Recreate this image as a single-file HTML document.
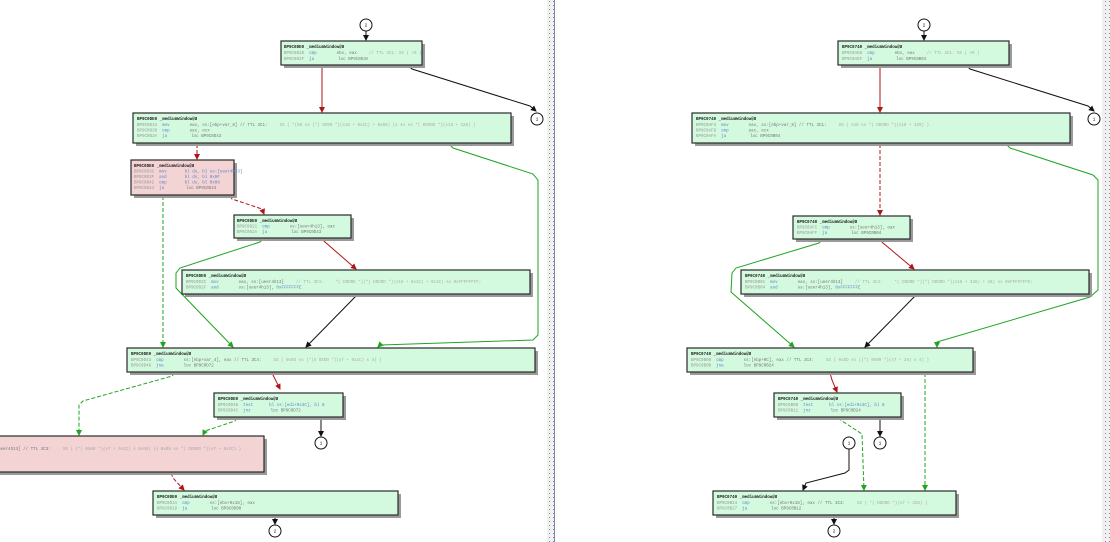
<!DOCTYPE html>
<html><head><meta charset="utf-8"><style>
html,body{margin:0;padding:0;background:#fff;}
svg{display:block}
text{font-family:"Liberation Mono",monospace;font-size:4.2px;}
.h{font-weight:bold;fill:#222;}
.a{fill:#999;}
.m{fill:#5b86c8;}
.o{fill:#777;}
.c{fill:#aaa;}
.b{fill:#d3fadf;stroke:#2a2a2a;stroke-width:1.2;}
.p{fill:#f3d3d3;stroke:#2a2a2a;stroke-width:1.2;}
.s{fill:#9a9a9a;}
.k{fill:none;stroke:#111;stroke-width:1;}
.r{fill:none;stroke:#b01515;stroke-width:1;}
.g{fill:none;stroke:#1fa51f;stroke-width:1;}
.d{stroke-dasharray:4,2;}
.ci{fill:#fff;stroke:#111;stroke-width:1;}
</style></head><body>
<svg width="1110" height="542" viewBox="0 0 1110 542" xmlns="http://www.w3.org/2000/svg">
<defs>
<marker id="ak" markerWidth="6" markerHeight="6" refX="5" refY="3" orient="auto" markerUnits="userSpaceOnUse"><path d="M0,0L6,3L0,6z" fill="#111"/></marker>
<marker id="ar" markerWidth="6" markerHeight="6" refX="5" refY="3" orient="auto" markerUnits="userSpaceOnUse"><path d="M0,0L6,3L0,6z" fill="#b01515"/></marker>
<marker id="ag" markerWidth="6" markerHeight="6" refX="5" refY="3" orient="auto" markerUnits="userSpaceOnUse"><path d="M0,0L6,3L0,6z" fill="#1fa51f"/></marker>
<pattern id="dots" width="4" height="4" patternUnits="userSpaceOnUse"><rect width="4" height="4" fill="#f0f0f0"/><rect x="1" y="1" width="1" height="1" fill="#8a8a9a"/></pattern>
</defs>

<rect x="547" y="0" width="7" height="542" fill="url(#dots)"/>
<line x1="554.5" y1="0" x2="554.5" y2="542" stroke="#7a8aa8" stroke-width="1"/>
<rect x="1102" y="0" width="8" height="542" fill="url(#dots)"/>

<!-- LEFT CONNECTORS -->
<polyline class="k" points="366,31 366,40" marker-end="url(#ak)"/>
<polyline class="r" points="322,66 322,112" marker-end="url(#ar)"/>
<polyline class="k" points="409,66 412,69 530,106 536,111" marker-end="url(#ak)"/>
<polyline class="r d" points="197,144 197,159" marker-end="url(#ar)"/>
<polyline class="g" points="449,144 453,148 533,174 538,180 538,335 533,340 380,345 378,347" marker-end="url(#ag)"/>
<polyline class="g d" points="163,196 163,347" marker-end="url(#ag)"/>
<polyline class="r d" points="230,196 232,199 262,209 264,214" marker-end="url(#ar)"/>
<polyline class="g" points="263,239 260,242 180,268 176,273 176,288 233,347" marker-end="url(#ag)"/>
<polyline class="r" points="322,239 325,242 356,269" marker-end="url(#ar)"/>
<polyline class="k" points="357,295 306,347" marker-end="url(#ak)"/>
<polyline class="g d" points="175,373 172,376 83,401 79,405 79,435" marker-end="url(#ag)"/>
<polyline class="r" points="272,373 280,389" marker-end="url(#ar)"/>
<polyline class="g d" points="237,418 235,421 205,431 203,435" marker-end="url(#ag)"/>
<polyline class="k" points="321,418 321,436" marker-end="url(#ak)"/>
<polyline class="r d" points="171,473 173,478 184,490" marker-end="url(#ar)"/>
<polyline class="k" points="275,516 275,524" marker-end="url(#ak)"/>

<!-- RIGHT CONNECTORS -->
<polyline class="k" points="924,31 924,40" marker-end="url(#ak)"/>
<polyline class="r" points="880,66 880,112" marker-end="url(#ar)"/>
<polyline class="k" points="967,66 970,69 1088,106 1094,111" marker-end="url(#ak)"/>
<polyline class="r d" points="880,144 880,215" marker-end="url(#ar)"/>
<polyline class="g" points="1006,144 1010,148 1093,175 1098,180 1098,290 1090,297 937,342 937,347" marker-end="url(#ag)"/>
<polyline class="g" points="822,240 819,243 736,268 732,273 731,292 794,347" marker-end="url(#ag)"/>
<polyline class="r" points="880,240 883,243 914,269" marker-end="url(#ar)"/>
<polyline class="k" points="916,295 865,347" marker-end="url(#ak)"/>
<polyline class="r" points="830,373 832,380 837,392" marker-end="url(#ar)"/>
<polyline class="g d" points="925,373 925,490" marker-end="url(#ag)"/>
<polyline class="g d" points="838,418 842,421 862,434 864,490" marker-end="url(#ag)"/>
<polyline class="k" points="880,418 880,436" marker-end="url(#ak)"/>
<polyline class="k" points="849,449 849,470 845,473 806,483 803,490" marker-end="url(#ak)"/>
<polyline class="k" points="834,516 834,524" marker-end="url(#ak)"/>

<!-- LEFT BOXES -->
<rect class="s" x="284" y="44" width="141" height="24"/><rect class="b" x="281" y="41" width="141" height="24"/>
<text x="284" y="48" class="h">BP9C0DE0   _mediumWindow@8</text>
<text x="284" y="54"><tspan class="a">BP9C0D2D</tspan><tspan class="m" dx="5">cmp</tspan><tspan class="o" dx="20">ebx, eax</tspan><tspan class="c" dx="12">// TTL 3C1:    SS ( &gt;0 )</tspan></text>
<text x="284" y="60"><tspan class="a">BP9C0D2F</tspan><tspan class="m" dx="5">ja</tspan><tspan class="o" dx="24">loc BP9C0D3A</tspan></text>

<rect class="s" x="136" y="116" width="378" height="30"/><rect class="b" x="133" y="113" width="378" height="30"/>
<text x="137" y="120" class="h">BP9C0DE0   _mediumWindow@8</text>
<text x="137" y="126"><tspan class="a">BP9C0D34</tspan><tspan class="m" dx="5">mov</tspan><tspan class="o" dx="20">eax, ss:[ebp+var_8] // TTL 3C1:</tspan><tspan class="c" dx="12">SS ( *(S8 ss (*) 0X00 *)(s18 + 0x1C) + 0x08) (s 4s ss *( DDDRD *)(s18 + 328) )</tspan></text>
<text x="137" y="131.5"><tspan class="a">BP9C0D38</tspan><tspan class="m" dx="5">cmp</tspan><tspan class="o" dx="20">eax, ecx</tspan></text>
<text x="137" y="137"><tspan class="a">BP9C0D3A</tspan><tspan class="m" dx="5">ja</tspan><tspan class="o" dx="24">loc BP9C0D43</tspan></text>

<rect class="s" x="134" y="163" width="103" height="35"/><rect class="p" x="131" y="160" width="103" height="35"/>
<text x="134" y="167" class="h">BP9C0DE0   _mediumWindow@8</text>
<text x="134" y="172.5"><tspan class="a">BP9C0D3C</tspan><tspan class="m" dx="5">mov</tspan><tspan class="m" dx="18">bl ds, bl ss:[ueer4h13]</tspan></text>
<text x="134" y="178"><tspan class="a">BP9C0D3F</tspan><tspan class="m" dx="5">and</tspan><tspan class="m" dx="18">bl ds, bl 0x0F</tspan></text>
<text x="134" y="183.5"><tspan class="a">BP9C0D42</tspan><tspan class="m" dx="5">cmp</tspan><tspan class="m" dx="18">bl ds, bl 0x08</tspan></text>
<text x="134" y="189"><tspan class="a">BP9C0D44</tspan><tspan class="m" dx="5">ja</tspan><tspan class="o" dx="22">loc BP9C0D43</tspan></text>

<rect class="s" x="237" y="218" width="117" height="23"/><rect class="b" x="234" y="215" width="117" height="23"/>
<text x="237" y="222" class="h">BP9C0DE0   _mediumWindow@8</text>
<text x="237" y="227.5"><tspan class="a">BP9C0D21</tspan><tspan class="m" dx="5">cmp</tspan><tspan class="o" dx="20">ss:[ueer4h13], eax</tspan></text>
<text x="237" y="233"><tspan class="a">BP9C0D2A</tspan><tspan class="m" dx="5">ja</tspan><tspan class="o" dx="24">loc BP9C0D43</tspan></text>

<rect class="s" x="185" y="273" width="348" height="24"/><rect class="b" x="182" y="270" width="348" height="24"/>
<text x="186" y="277" class="h">BP9C0DE0   _mediumWindow@8</text>
<text x="186" y="283"><tspan class="a">BP9C0D2C</tspan><tspan class="m" dx="5">mov</tspan><tspan class="o" dx="20">eax, ss:[ueer4h13]</tspan><tspan class="c" dx="12">// TTL 3C4:</tspan><tspan class="c" dx="12">*( DDDRD *)(*( DDDRD *)(s18 + 0x1C) + 0x1C) sx 0xFFFFFFFF;</tspan></text>
<text x="186" y="288.5"><tspan class="a">BP9C0D2F</tspan><tspan class="m" dx="5">and</tspan><tspan class="o" dx="20">ss:[ueer4h13], </tspan><tspan class="m">0xFFFFFFFE</tspan></text>

<rect class="s" x="130" y="351" width="408" height="24"/><rect class="b" x="127" y="348" width="408" height="24"/>
<text x="131" y="355" class="h">BP9C0DE0   _mediumWindow@8</text>
<text x="131" y="361"><tspan class="a">BP9C0D43</tspan><tspan class="m" dx="5">cmp</tspan><tspan class="o" dx="20">ss:[ebp+var_4], eax // TTL 3C4:</tspan><tspan class="c" dx="12">SS ( 0x03 ss (*(S OXDD *)(s7 + 0x1C) s 4) )</tspan></text>
<text x="131" y="366.5"><tspan class="a">BP9C0D46</tspan><tspan class="m" dx="5">jna</tspan><tspan class="o" dx="20">loc BP9C0D72</tspan></text>

<rect class="s" x="217" y="396" width="129" height="24"/><rect class="b" x="214" y="393" width="129" height="24"/>
<text x="218" y="400" class="h">BP9C0DE0   _mediumWindow@8</text>
<text x="218" y="406"><tspan class="a">BP9C0D48</tspan><tspan class="m" dx="5">test</tspan><tspan class="m" dx="16">bl ss:[edi+0x3C], bl 8</tspan></text>
<text x="218" y="411.5"><tspan class="a">BP9C0D4C</tspan><tspan class="m" dx="5">jnz</tspan><tspan class="o" dx="20">loc BP9C0D72</tspan></text>

<rect class="s" x="-7" y="439" width="274" height="36"/><rect class="p" x="-10" y="436" width="274" height="36"/>
<text x="-2" y="450"><tspan class="o">ueer4h13] // TTL 3C3:</tspan><tspan class="c" dx="12">SS ( (*) 0X00 *)(s7 + 0x1C) s 0x08) (s 0x08 ss *( DDDRD *)(s7 + 0x1C) )</tspan></text>

<rect class="s" x="156" y="494" width="245" height="24"/><rect class="b" x="153" y="491" width="245" height="24"/>
<text x="157" y="498" class="h">BP9C0DE0   _mediumWindow@8</text>
<text x="157" y="504"><tspan class="a">BP9C0D1A</tspan><tspan class="m" dx="5">cmp</tspan><tspan class="o" dx="20">ss:[ebx+0x18], eax</tspan></text>
<text x="157" y="509.5"><tspan class="a">BP9C0D1D</tspan><tspan class="m" dx="5">ja</tspan><tspan class="o" dx="24">loc BP9C0D00</tspan></text>

<circle class="ci" cx="366" cy="25" r="6"/><text x="366" y="26.5" text-anchor="middle">2</text>
<circle class="ci" cx="537" cy="119" r="6"/><text x="537" y="120.5" text-anchor="middle">1</text>
<circle class="ci" cx="321" cy="443" r="6"/><text x="321" y="444.5" text-anchor="middle">1</text>
<circle class="ci" cx="275" cy="531" r="6"/><text x="275" y="532.5" text-anchor="middle">2</text>

<!-- RIGHT BOXES -->
<rect class="s" x="841" y="44" width="171" height="24"/><rect class="b" x="838" y="41" width="171" height="24"/>
<text x="842" y="48" class="h">BP9C0740   _mediumWindow@8</text>
<text x="842" y="54"><tspan class="a">BP9C0AE0</tspan><tspan class="m" dx="5">cmp</tspan><tspan class="o" dx="20">ebx, eax</tspan><tspan class="c" dx="12">// TTL 3C1:    SS ( &gt;0 )</tspan></text>
<text x="842" y="60"><tspan class="a">BP9C0AEF</tspan><tspan class="m" dx="5">ja</tspan><tspan class="o" dx="24">loc BP9C0B04</tspan></text>

<rect class="s" x="695" y="116" width="378" height="30"/><rect class="b" x="692" y="113" width="378" height="30"/>
<text x="696" y="120" class="h">BP9C0740   _mediumWindow@8</text>
<text x="696" y="126"><tspan class="a">BP9C0AF4</tspan><tspan class="m" dx="5">mov</tspan><tspan class="o" dx="20">eax, ss:[ebp+var_8] // TTL 3C1:</tspan><tspan class="c" dx="12">SS ( s18 ss *( DDDRD *)(s18 + 328) )</tspan></text>
<text x="696" y="131.5"><tspan class="a">BP9C0AF8</tspan><tspan class="m" dx="5">cmp</tspan><tspan class="o" dx="20">eax, ecx</tspan></text>
<text x="696" y="137"><tspan class="a">BP9C0AFA</tspan><tspan class="m" dx="5">ja</tspan><tspan class="o" dx="24">loc BP9C0B04</tspan></text>

<rect class="s" x="796" y="219" width="117" height="23"/><rect class="b" x="793" y="216" width="117" height="23"/>
<text x="797" y="223" class="h">BP9C0740   _mediumWindow@8</text>
<text x="797" y="228.5"><tspan class="a">BP9C0AFC</tspan><tspan class="m" dx="5">cmp</tspan><tspan class="o" dx="20">ss:[ueer4h13], eax</tspan></text>
<text x="797" y="234"><tspan class="a">BP9C0AFF</tspan><tspan class="m" dx="5">ja</tspan><tspan class="o" dx="24">loc BP9C0B04</tspan></text>

<rect class="s" x="744" y="273" width="348" height="24"/><rect class="b" x="741" y="270" width="348" height="24"/>
<text x="745" y="277" class="h">BP9C0740   _mediumWindow@8</text>
<text x="745" y="283"><tspan class="a">BP9C0B01</tspan><tspan class="m" dx="5">mov</tspan><tspan class="o" dx="20">eax, ss:[ueer4h13]</tspan><tspan class="c" dx="12">// TTL 3C4:</tspan><tspan class="c" dx="12">*( DDDRD *)(*( DDDRD *)(s18 + 328) + 28) sx 0xFFFFFFFE;</tspan></text>
<text x="745" y="288.5"><tspan class="a">BP9C0B04</tspan><tspan class="m" dx="5">and</tspan><tspan class="o" dx="20">ss:[ueer4h13], </tspan><tspan class="m">0xFFFFFFFE</tspan></text>

<rect class="s" x="690" y="351" width="286" height="24"/><rect class="b" x="687" y="348" width="286" height="24"/>
<text x="691" y="355" class="h">BP9C0740   _mediumWindow@8</text>
<text x="691" y="361"><tspan class="a">BP9C0B08</tspan><tspan class="m" dx="5">cmp</tspan><tspan class="o" dx="20">ss:[ebp+0C], eax // TTL 3C4:</tspan><tspan class="c" dx="12">SS ( 0xDD ss ((*) 0X00 *)(s7 + 28) s 4) )</tspan></text>
<text x="691" y="366.5"><tspan class="a">BP9C0B0B</tspan><tspan class="m" dx="5">jna</tspan><tspan class="o" dx="20">loc BP9C0B24</tspan></text>

<rect class="s" x="777" y="396" width="127" height="24"/><rect class="b" x="774" y="393" width="127" height="24"/>
<text x="778" y="400" class="h">BP9C0740   _mediumWindow@8</text>
<text x="778" y="406"><tspan class="a">BP9C0B0D</tspan><tspan class="m" dx="5">test</tspan><tspan class="m" dx="16">bl ss:[edi+0x3C], bl 8</tspan></text>
<text x="778" y="411.5"><tspan class="a">BP9C0B11</tspan><tspan class="m" dx="5">jnz</tspan><tspan class="o" dx="20">loc BP9C0B24</tspan></text>

<rect class="s" x="716" y="494" width="243" height="24"/><rect class="b" x="713" y="491" width="243" height="24"/>
<text x="717" y="498" class="h">BP9C0740   _mediumWindow@8</text>
<text x="717" y="504"><tspan class="a">BP9C0B24</tspan><tspan class="m" dx="5">cmp</tspan><tspan class="o" dx="20">ss:[ebx+0x18], eax // TTL 3C3:</tspan><tspan class="c" dx="12">SS ( *( DDDRD *)(s7 + 328) )</tspan></text>
<text x="717" y="509.5"><tspan class="a">BP9C0B27</tspan><tspan class="m" dx="5">ja</tspan><tspan class="o" dx="24">loc BP9C0B12</tspan></text>

<circle class="ci" cx="924" cy="25" r="6"/><text x="924" y="26.5" text-anchor="middle">2</text>
<circle class="ci" cx="1094" cy="119" r="6"/><text x="1094" y="120.5" text-anchor="middle">1</text>
<circle class="ci" cx="849" cy="443" r="6"/><text x="849" y="444.5" text-anchor="middle">1</text>
<circle class="ci" cx="880" cy="443" r="6"/><text x="880" y="444.5" text-anchor="middle">1</text>
<circle class="ci" cx="834" cy="531" r="6"/><text x="834" y="532.5" text-anchor="middle">2</text>
</svg>
</body></html>
